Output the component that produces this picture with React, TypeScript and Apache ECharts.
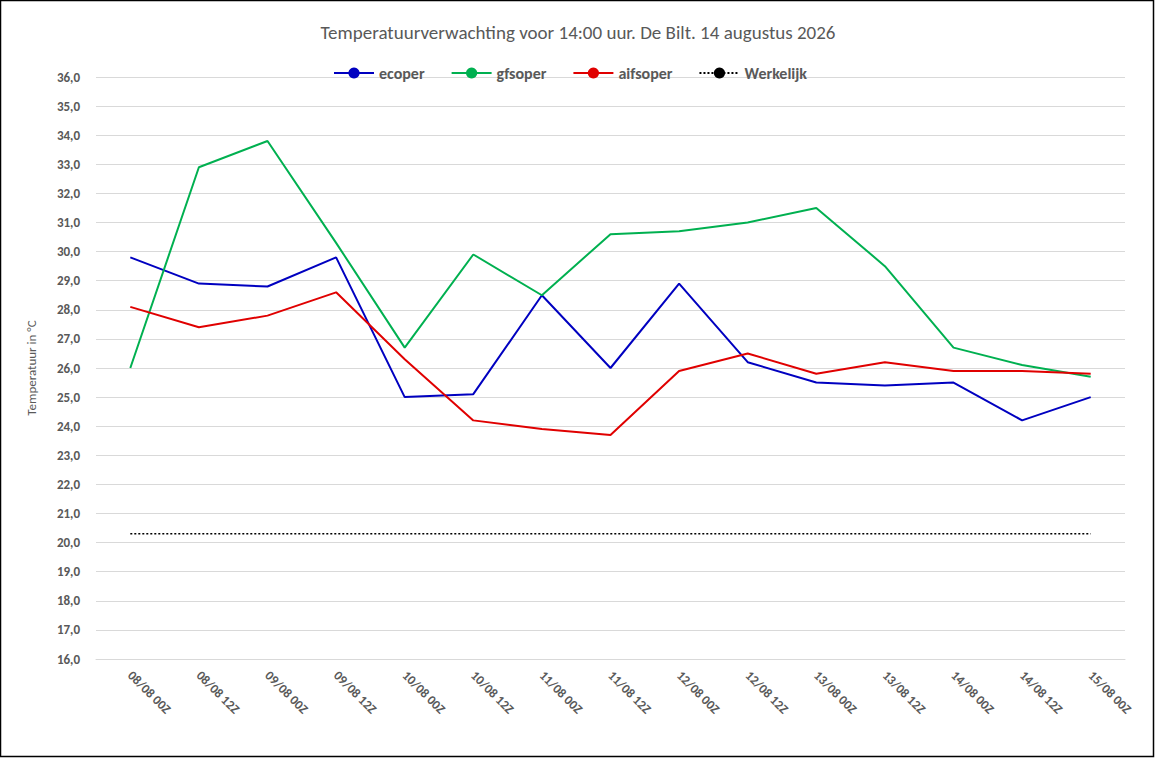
import React, { useEffect, useRef } from "react";
import * as echarts from "echarts";

const categories = ["08/08 00Z","08/08 12Z","09/08 00Z","09/08 12Z","10/08 00Z","10/08 12Z","11/08 00Z","11/08 12Z","12/08 00Z","12/08 12Z","13/08 00Z","13/08 12Z","14/08 00Z","14/08 12Z","15/08 00Z"];
const ecoper = [29.8,28.9,28.8,29.8,25.0,25.1,28.5,26.0,28.9,26.2,25.5,25.4,25.5,24.2,25.0];
const gfsoper = [26.0,32.9,33.8,30.3,26.7,29.9,28.5,30.6,30.7,31.0,31.5,29.5,26.7,26.1,25.7];
const aifsoper = [28.1,27.4,27.8,28.6,26.3,24.2,23.9,23.7,25.9,26.5,25.8,26.2,25.9,25.9,25.8];
const werkelijk = categories.map(() => 20.3);

export default function App() {
  const ref = useRef<HTMLDivElement>(null);
  useEffect(() => {
    const chart = echarts.init(ref.current!, null, { renderer: "svg" });
    const font = "Calibri, Carlito, 'Liberation Sans', sans-serif";
    chart.setOption({
      animation: false,
      backgroundColor: "#fff",
      textStyle: { fontFamily: font },
      title: { text: "Temperatuurverwachting voor 14:00 uur. De Bilt. 14 augustus 2026", left: "center", top: 18, textStyle: { fontSize: 19, fontWeight: "normal", color: "#595959", fontFamily: font } },
      legend: { top: 60, left: 328, itemGap: 26, itemWidth: 40, itemHeight: 14, textStyle: { fontSize: 16, fontWeight: "bold", color: "#595959" },
        data: ["ecoper", "gfsoper", "aifsoper", "Werkelijk"] },
      grid: { left: 96, right: 31, top: 77, bottom: 100, containLabel: false },
      xAxis: { type: "category", data: categories, boundaryGap: true,
        axisLine: { lineStyle: { color: "#d9d9d9" } }, axisTick: { show: false },
        axisLabel: { rotate: -45, color: "#595959", fontSize: 13, fontWeight: "bold", interval: 0, margin: 14 } },
      yAxis: { type: "value", min: 16, max: 36, interval: 1,
        name: "Temperatuur in °C", nameLocation: "middle", nameGap: 58, nameTextStyle: { color: "#595959", fontSize: 13 },
        axisLine: { show: false }, axisTick: { show: false },
        splitLine: { lineStyle: { color: "#d9d9d9" } },
        axisLabel: { color: "#595959", fontSize: 13, fontWeight: "bold", formatter: (v: number) => v.toFixed(1).replace(".", ","), margin: 16 } },
      series: [
        { name: "ecoper", type: "line", data: ecoper, symbol: "none", lineStyle: { color: "#0000c0", width: 2 }, itemStyle: { color: "#0000c0" } },
        { name: "gfsoper", type: "line", data: gfsoper, symbol: "none", lineStyle: { color: "#00b050", width: 2 }, itemStyle: { color: "#00b050" } },
        { name: "aifsoper", type: "line", data: aifsoper, symbol: "none", lineStyle: { color: "#e00000", width: 2 }, itemStyle: { color: "#e00000" } },
        { name: "Werkelijk", type: "line", data: werkelijk, symbol: "none", lineStyle: { color: "#000", width: 1.5, type: [2, 2] }, itemStyle: { color: "#000" } },
      ],
      graphic: [{ type: "rect", shape: { x: 0.5, y: 0.5, width: 1153, height: 756 }, style: { fill: "none", stroke: "#000", lineWidth: 1.5 } }],
    });
    return () => chart.dispose();
  }, []);
  return <div ref={ref} style={{ width: 1156, height: 759, position: "absolute", left: 0, top: 0 }} />;
}
